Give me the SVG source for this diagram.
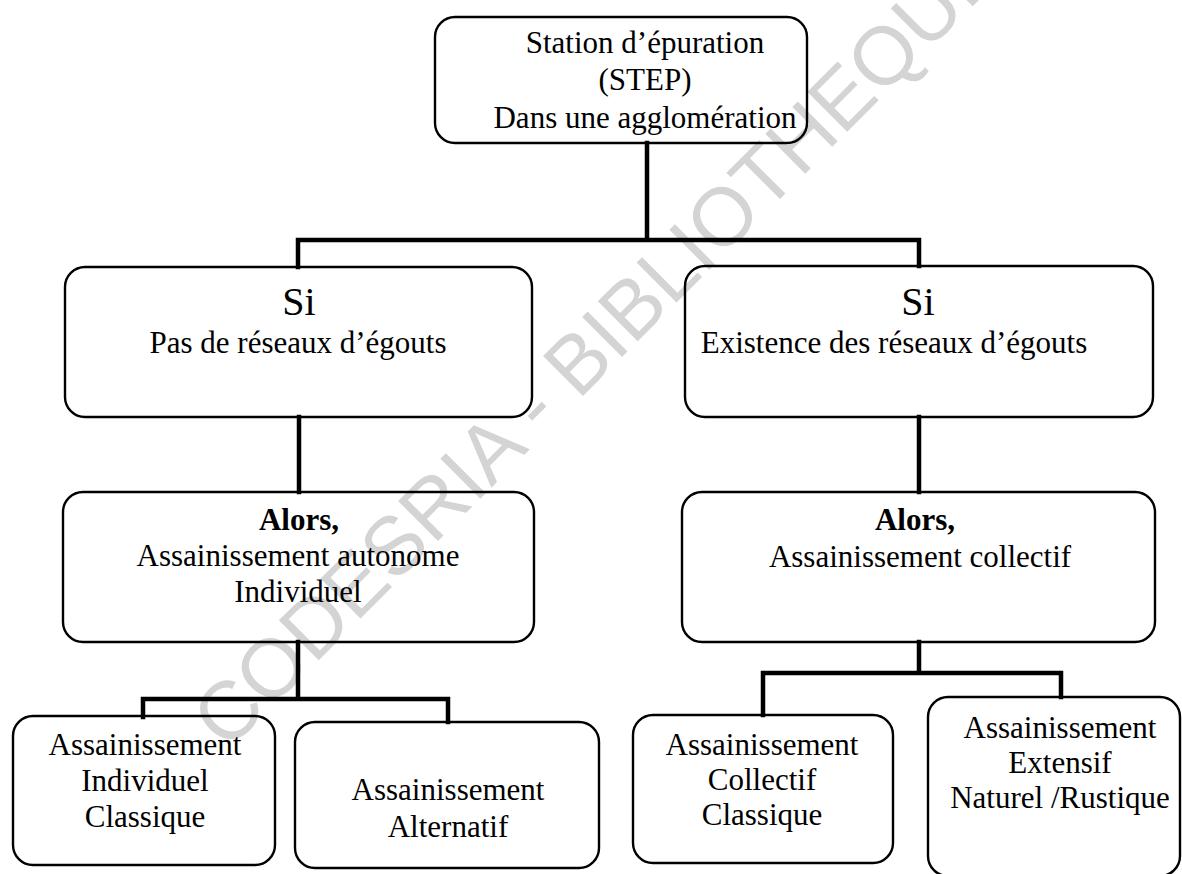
<svg xmlns="http://www.w3.org/2000/svg" width="1182" height="874" viewBox="0 0 1182 874">
<style>
.box{fill:none;stroke:#000;stroke-width:2.4}
.con{fill:none;stroke:#000;stroke-width:4.5;stroke-linecap:square;stroke-linejoin:miter}
.t{font-family:"Liberation Serif","Times New Roman",serif;font-size:31px;fill:#000;text-anchor:middle}
.si{font-size:40px}
.b{font-weight:bold}
.wm{font-family:"Liberation Sans",Arial,sans-serif;font-size:82px;fill:#d4d4d4}
</style>
<rect x="0" y="0" width="1182" height="874" fill="#fff"/>
<text class="wm" transform="translate(227,752) rotate(-45)">CODESRIA - BIBLIOTHEQUE</text>
<g id="connectors">
<path class="con" d="M647,143 V240 M298,267 V240 H919 V266"/>
<path class="con" d="M299,417 V492"/>
<path class="con" d="M919,417 V492"/>
<path class="con" d="M298,642 V699 M143,717 V699 H448 V722"/>
<path class="con" d="M919,642 V673 M763,715 V673 H1061 V697"/>
</g>
<g id="station">
<rect class="box" x="435" y="17" width="372" height="126" rx="20"/>
<text class="t" x="645" y="53">Station d’épuration</text>
<text class="t" x="645" y="90">(STEP)</text>
<text class="t" x="645" y="128">Dans une agglomération</text>
</g>
<g id="si-pas">
<rect class="box" x="65" y="267" width="467" height="150" rx="20"/>
<text class="t si" x="299" y="315">Si</text>
<text class="t" x="298" y="353">Pas de réseaux d’égouts</text>
</g>
<g id="si-existence">
<rect class="box" x="685" y="266" width="468" height="151" rx="20"/>
<text class="t si" x="918" y="315">Si</text>
<text class="t" x="894" y="353">Existence des réseaux d’égouts</text>
</g>
<g id="alors-autonome">
<rect class="box" x="63" y="492" width="471" height="150" rx="20"/>
<text class="t b" x="299" y="530">Alors,</text>
<text class="t" x="298" y="566">Assainissement autonome</text>
<text class="t" x="298" y="602">Individuel</text>
</g>
<g id="alors-collectif">
<rect class="box" x="682" y="492" width="473" height="150" rx="20"/>
<text class="t b" x="915" y="530">Alors,</text>
<text class="t" x="920" y="567">Assainissement collectif</text>
</g>
<g id="individuel-classique">
<rect class="box" x="13" y="716" width="262" height="149" rx="20"/>
<text class="t" x="145" y="755">Assainissement</text>
<text class="t" x="145" y="791">Individuel</text>
<text class="t" x="145" y="827">Classique</text>
</g>
<g id="alternatif">
<rect class="box" x="295" y="722" width="304" height="146" rx="20"/>
<text class="t" x="448" y="800">Assainissement</text>
<text class="t" x="448" y="837">Alternatif</text>
</g>
<g id="collectif-classique">
<rect class="box" x="633" y="715" width="260" height="148" rx="20"/>
<text class="t" x="762" y="755">Assainissement</text>
<text class="t" x="762" y="790">Collectif</text>
<text class="t" x="762" y="825">Classique</text>
</g>
<g id="extensif">
<rect class="box" x="928" y="697" width="252" height="179" rx="20"/>
<text class="t" x="1060" y="738">Assainissement</text>
<text class="t" x="1060" y="773">Extensif</text>
<text class="t" x="1060" y="808">Naturel /Rustique</text>
</g>
</svg>
